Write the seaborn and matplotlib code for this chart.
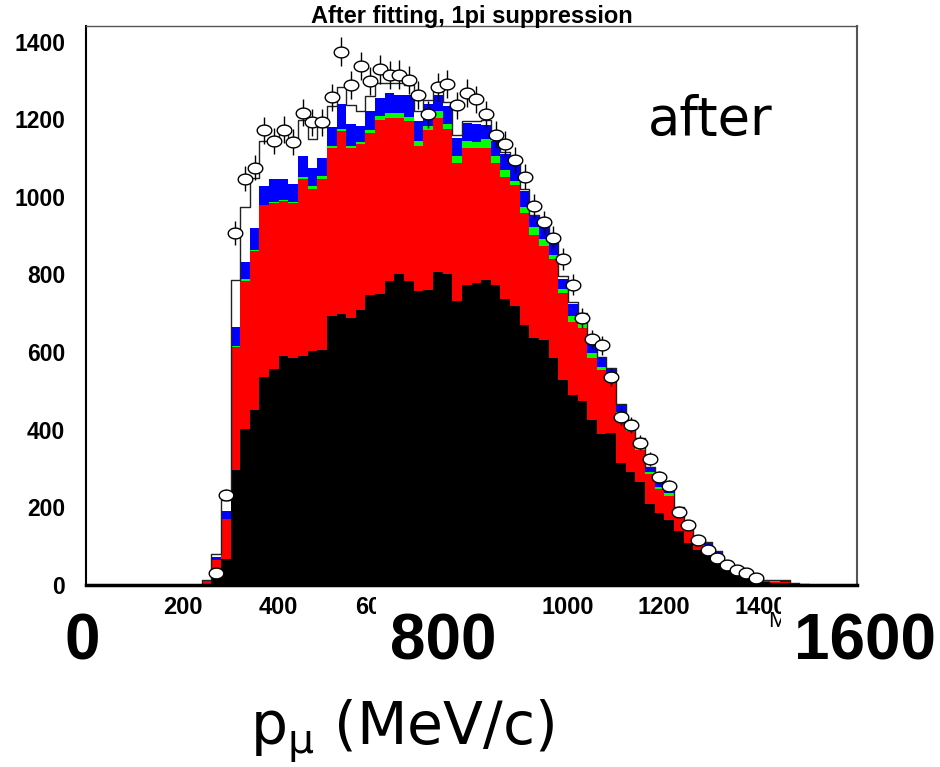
import numpy as np
import pandas as pd
import matplotlib
matplotlib.use("Agg")
import matplotlib.pyplot as plt
from matplotlib.path import Path
from matplotlib.patches import Rectangle
from matplotlib.ticker import MultipleLocator
import seaborn as sns

# ---------------- data ----------------
bin_width = 20
bin_low = list(range(240, 1500, 20))          # lower bin edges, MeV/c

# top of each stacked layer (cumulative), per bin
top_black = [0, 24, 68, 297, 401, 451, 537, 557, 589, 586, 591, 603, 605, 693, 698, 689,
             708, 748, 750, 783, 801, 783, 757, 760, 807, 802, 731, 774, 779, 786, 772, 736,
             719, 670, 636, 630, 584, 529, 489, 475, 426, 389, 392, 313, 290, 266, 208, 185,
             168, 138, 109, 91, 83, 62, 43, 29, 21, 13, 7, 5, 4, 3, 1]
top_red = [10, 64, 169, 613, 783, 861, 978, 983, 990, 983, 1047, 1021, 1047, 1125, 1170, 1127,
           1135, 1165, 1197, 1203, 1203, 1194, 1130, 1173, 1203, 1175, 1087, 1127, 1127, 1127,
           1087, 1051, 1030, 959, 902, 874, 839, 751, 677, 662, 584, 554, 527, 440, 396, 349,
           285, 248, 229, 183, 151, 113, 100, 79, 55, 40, 29, 19, 10, 9, 7, 5, 2]
top_green = [10, 65, 170, 615, 788, 864, 980, 986, 993, 986, 1051, 1028, 1054, 1130, 1175, 1132,
             1140, 1173, 1209, 1216, 1217, 1206, 1144, 1182, 1220, 1187, 1106, 1144, 1141, 1149,
             1104, 1068, 1042, 975, 921, 891, 850, 762, 693, 674, 598, 562, 546, 446, 404, 356,
             292, 252, 236, 190, 157, 117, 104, 83, 58, 42, 31, 20, 11, 10, 8, 5, 2]
top_blue = [13, 71, 190, 665, 833, 919, 1027, 1045, 1047, 1033, 1106, 1075, 1100, 1180, 1239, 1187,
            1182, 1222, 1255, 1268, 1263, 1261, 1194, 1240, 1263, 1235, 1151, 1189, 1187, 1184,
            1144, 1111, 1083, 1016, 950, 924, 878, 788, 725, 698, 622, 584, 556, 463, 423, 375,
            302, 265, 245, 198, 164, 123, 109, 87, 62, 46, 36, 23, 13, 13, 12, 6, 3]
top_total = [14, 81, 218, 785, 973, 1049, 1144, 1144, 1173, 1149, 1197, 1149, 1179, 1233, 1284, 1237,
             1222, 1260, 1292, 1292, 1292, 1289, 1222, 1250, 1272, 1245, 1159, 1194, 1196, 1197,
             1150, 1115, 1087, 1020, 953, 927, 881, 795, 728, 700, 625, 587, 560, 466, 425, 378,
             304, 267, 247, 200, 165, 124, 110, 88, 63, 47, 37, 24, 14, 13, 12, 6, 3]
nan = float("nan")
data_counts = [nan, 30, 233, 907, 1047, 1075, 1171, 1144, 1173, 1142, 1217, 1192, 1192, 1256, 1374,
               1289, 1337, 1298, 1328, 1313, 1315, 1301, 1263, 1213, 1282, 1290, 1236, 1268, 1251,
               1213, 1160, 1135, 1095, 1052, 976, 934, 895, 840, 774, 687, 633, 617, 537, 434, 413,
               366, 324, 277, 255, 189, 154, 115, 89, 70, 51, 39, 32, 19, nan, nan, nan, nan, nan]

x_ticks = [0, 200, 400, 600, 800, 1000, 1200, 1400, 1600]
y_ticks = [0, 200, 400, 600, 800, 1000, 1200, 1400]
big_labels = ["0", "800", "1600"]
title = "After fitting, 1pi suppression"

# ---------------- build components ----------------
centers = np.array(bin_low) + bin_width / 2
tb, tr, tg, tbl, tt = (np.array(a, float) for a in (top_black, top_red, top_green, top_blue, top_total))
components = {
    "black": tb,
    "red": tr - tb,
    "green": tg - tr,
    "blue": tbl - tg,
    "white": tt - tbl,
}
palette = {"black": "#000000", "red": "#ff0000", "green": "#00ff00",
           "blue": "#0000ff", "white": "#ffffff"}
df = pd.concat([pd.DataFrame({"p": centers, "w": v, "comp": k}) for k, v in components.items()],
               ignore_index=True)

# ---------------- figure ----------------
sns.set_theme(style="white")
plt.rcParams["font.family"] = ["Liberation Sans", "DejaVu Sans"]
plt.rcParams.update({"text.color": "black", "xtick.color": "black", "ytick.color": "black",
                     "axes.labelcolor": "black"})

W, H = 940, 767
fig = plt.figure(figsize=(W / 100, H / 100), dpi=100)
ax = fig.add_axes([86 / W, 1 - 585 / H, (857 - 86) / W, (585 - 26) / H])

# stacked MC (first hue level is drawn on top in seaborn's stack)
sns.histplot(data=df, x="p", weights="w", hue="comp",
             hue_order=["white", "blue", "green", "red", "black"],
             multiple="stack", binwidth=bin_width, binrange=(0, 1600),
             element="step", fill=True,
             palette=palette, alpha=1, linewidth=0, legend=False, ax=ax)
# outline of the total MC
sns.histplot(x=centers, weights=tt, binwidth=bin_width, binrange=(0, 1600),
             element="step", fill=False, color="#222222", linewidth=1.0, ax=ax)

# data points: open ellipses with vertical error bars
t = np.linspace(0, 2 * np.pi, 60)
ellipse = Path(np.column_stack([1.35 * np.cos(t), np.sin(t)]), closed=True)
dc = np.array(data_counts, float)
ax.errorbar(centers, dc, yerr=np.sqrt(dc), fmt="none", ecolor="black",
            elinewidth=1.0, capsize=0, zorder=5)
ax.plot(centers, dc, linestyle="none", marker=ellipse, markersize=10.5,
        markerfacecolor="white", markeredgecolor="black", markeredgewidth=1.0, zorder=6)

ax.set_xlim(0, 1600)
ax.set_ylim(0, 1440)
ax.set_xlabel("")
ax.set_ylabel("")
ax.set_xticks(x_ticks)
ax.set_yticks(y_ticks)
ax.xaxis.set_minor_locator(MultipleLocator(50))
ax.yaxis.set_minor_locator(MultipleLocator(50))
ax.tick_params(axis="both", which="major", direction="in", length=11, width=1.3,
               color="black", labelcolor="black")
ax.tick_params(axis="both", which="minor", direction="in", length=5.5, width=1.1,
               color="black")
ax.tick_params(axis="x", which="major", pad=8)
ax.tick_params(axis="y", which="major", pad=15)
for lab in ax.get_xticklabels():
    lab.set_fontsize(17)
    lab.set_fontweight("bold")
for lab in ax.get_yticklabels():
    lab.set_fontsize(16.5)
    lab.set_fontweight("bold")

for side in ("top", "right", "left", "bottom"):
    ax.spines[side].set_visible(True)
ax.spines["bottom"].set_color("black")
ax.spines["bottom"].set_linewidth(2.5)
ax.spines["left"].set_color("black")
ax.spines["left"].set_linewidth(1.5)
ax.spines["top"].set_color("#555555")
ax.spines["top"].set_linewidth(1.0)
ax.spines["right"].set_color("#555555")
ax.spines["right"].set_linewidth(1.5)
ax.set_facecolor("white")

# titles and annotations
fig.text(472 / W, 1 - 16 / H, title, ha="center", va="center",
         fontsize=17, fontweight="bold", color="black")
fig.text(648 / W, 1 - 135 / H, "after", ha="left", va="baseline",
         fontsize=38, family="DejaVu Sans", color="black")
fig.text(768 / W, 1 - 627 / H, "MeV/c", ha="left", va="baseline",
         fontsize=16, zorder=2, color="black")

# large overlay tick numbers, each on a white patch that hides the small labels below it
big_x = [82, 443, 865]                    # centre, pixels
big_box = [(52, 114), (376, 512), (781, 940)]  # white patch left/right, pixels
for lab, xc, (x0, x1) in zip(big_labels, big_x, big_box):
    fig.patches.append(Rectangle((x0 / W, 1 - 672 / H), (x1 - x0) / W, (672 - 596) / H,
                                 transform=fig.transFigure, facecolor="white",
                                 edgecolor="none", zorder=9))
    fig.text(xc / W, 1 - 660 / H, lab, ha="center", va="baseline", fontsize=46,
             fontweight="bold", color="black", zorder=10)

fig.text(250 / W, 1 - 745 / H, r"p$_{\mathregular{\mu}}$ (MeV/c)", ha="left",
         va="baseline", fontsize=42, family="DejaVu Sans", color="black")

fig.savefig("out.png", dpi=100, facecolor="white")
